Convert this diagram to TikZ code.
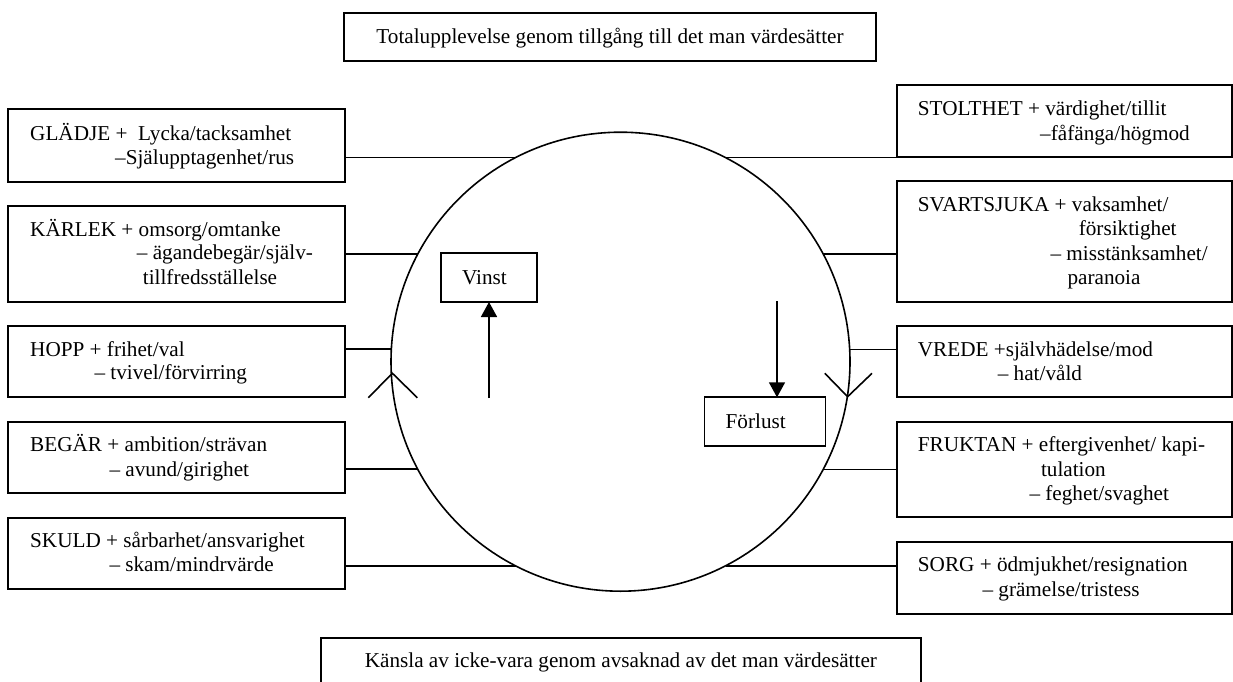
\documentclass[tikz,border=0pt]{standalone}
\usepackage{fontspec}
\setmainfont{Liberation Serif}
\usetikzlibrary{arrows.meta}
\begin{document}
\begin{tikzpicture}[x=1pt,y=-1pt,
  bx/.style={draw, line width=1.8pt, rectangle, inner sep=0pt, outer sep=0pt},
  conn/.style={line width=1.6pt},
  arr/.style={line width=1.6pt, -{Triangle[width=16pt,length=15pt]}},
  txt/.style={anchor=base west, inner sep=0pt, font=\fontsize{21.2}{24}\selectfont},
  ctxt/.style={anchor=base, inner sep=0pt, font=\fontsize{21.2}{24}\selectfont}]
\useasboundingbox[fill=white] (0,0) rectangle (1233,682);

% top and bottom boxes
\node[bx, minimum width=532pt, minimum height=47.7pt] (top) at (610,37.15) {};
\node[ctxt] (toptxt) at (610,44) {Totalupplevelse genom tillgång till det man värdesätter};
\node[bx, minimum width=600.3pt, minimum height=62.3pt] (bot) at (620.85,668.85) {};
\node[ctxt] (bottxt) at (620.85,667) {Känsla av icke-vara genom avsaknad av det man värdesätter};

% circle
\node[draw, circle, line width=1.6pt, minimum size=459pt, inner sep=0pt] (C) at (620.5,361.7) {};
\coordinate (lw1) at (368.3,397.7);
\coordinate (lt) at (392.4,373.3);
\coordinate (lw2) at (417.3,397.7);
\draw[conn] (lw1) -- (lt) -- (lw2);
\coordinate (rw1) at (824.8,373.3);
\coordinate (rt) at (847.6,396.7);
\coordinate (rw2) at (872,373.3);
\draw[conn] (rw1) -- (rt) -- (rw2);

% left boxes
\node[bx, minimum width=337pt, minimum height=73pt] (gl) at (176.5,145.5) {};
\node[bx, minimum width=337pt, minimum height=96pt] (ka) at (176.5,254) {};
\node[bx, minimum width=337pt, minimum height=71pt] (ho) at (176.5,361.5) {};
\node[bx, minimum width=337pt, minimum height=71.3pt] (be) at (176.5,457.35) {};
\node[bx, minimum width=337pt, minimum height=71.3pt] (sk) at (176.5,553.35) {};

% right boxes
\node[bx, minimum width=335pt, minimum height=72.3pt] (st) at (1064.5,121.15) {};
\node[bx, minimum width=335pt, minimum height=120.7pt] (sv) at (1064.5,241.35) {};
\node[bx, minimum width=335pt, minimum height=71.3pt] (vr) at (1064.5,361.65) {};
\node[bx, minimum width=335pt, minimum height=95.6pt] (fr) at (1064.5,469.5) {};
\node[bx, minimum width=335pt, minimum height=71.7pt] (so) at (1064.5,578.15) {};

% connectors
\coordinate (cgl) at (515.5,157.5);
\coordinate (cka) at (417.8,254);
\coordinate (cho) at (391.6,349);
\coordinate (cbe) at (417.6,469);
\coordinate (csk) at (515.5,566);
\coordinate (cst) at (725.5,157.3);
\coordinate (csv) at (823.2,254);
\coordinate (cvr) at (849.4,349.3);
\coordinate (cfr) at (823.4,469.3);
\coordinate (cso) at (725.5,566);
\draw[conn] (gl.east |- cgl) -- (cgl);
\draw[conn] (ka.east |- cka) -- (cka);
\draw[conn] (ho.east |- cho) -- (cho);
\draw[conn] (be.east |- cbe) -- (cbe);
\draw[conn] (sk.east |- csk) -- (csk);
\draw[conn] (st.west |- cst) -- (cst);
\draw[conn] (sv.west |- csv) -- (csv);
\draw[conn] (vr.west |- cvr) -- (cvr);
\draw[conn] (fr.west |- cfr) -- (cfr);
\draw[conn] (so.west |- cso) -- (cso);

% Vinst / Förlust
\node[bx, minimum width=96pt, minimum height=49pt] (vi) at (489,277.5) {};
\node[txt] (vitxt) at (462,284) {Vinst};
\coordinate (vstart) at (489,398);
\draw[arr] (vstart) -- (vi.south);
\node[bx, minimum width=121pt, minimum height=48.4pt] (fo) at (765,421.5) {};
\node[txt] (fotxt) at (725.5,428.3) {Förlust};
\coordinate (fstart) at (777,301);
\draw[arr] (fstart) -- (fstart |- fo.north);

% left texts
\node[txt] (gl1) at (30,140.7) {GLÄDJE +\ \ Lycka/tacksamhet};
\node[txt] (gl2) at (115,164) {–Själupptagenhet/rus};
\node[txt] (ka1) at (30,236) {KÄRLEK + omsorg/omtanke};
\node[txt] (ka2) at (136.7,259.3) {– ägandebegär/själv-};
\node[txt] (ka3) at (142.7,284.3) {tillfredsställelse};
\node[txt] (ho1) at (30,356) {HOPP + frihet/val};
\node[txt] (ho2) at (94.3,379.3) {– tvivel/förvirring};
\node[txt] (be1) at (30,451.7) {BEGÄR + ambition/strävan};
\node[txt] (be2) at (109.3,476) {– avund/girighet};
\node[txt] (sk1) at (30,547.7) {SKULD + sårbarhet/ansvarighet};
\node[txt] (sk2) at (109.3,571.7) {– skam/mindrvärde};

% right texts
\node[txt] (st1) at (917.7,115.7) {STOLTHET + värdighet/tillit};
\node[txt] (st2) at (1040,140) {–fåfänga/högmod};
\node[txt] (sv1) at (917.7,211.7) {SVARTSJUKA + vaksamhet/};
\node[txt] (sv2) at (1078.6,235) {försiktighet};
\node[txt] (sv3) at (1050.3,260) {– misstänksamhet/};
\node[txt] (sv4) at (1067.3,284.3) {paranoia};
\node[txt] (vr1) at (917.7,356) {VREDE +självhädelse/mod};
\node[txt] (vr2) at (997.6,380) {– hat/våld};
\node[txt] (fr1) at (917.7,451.7) {FRUKTAN + eftergivenhet/ kapi-};
\node[txt] (fr2) at (1040.8,476) {tulation};
\node[txt] (fr3) at (1029.3,500.7) {– feghet/svaghet};
\node[txt] (so1) at (917.7,571.7) {SORG + ödmjukhet/resignation};
\node[txt] (so2) at (982.3,596.7) {– grämelse/tristess};
\end{tikzpicture}
\end{document}
